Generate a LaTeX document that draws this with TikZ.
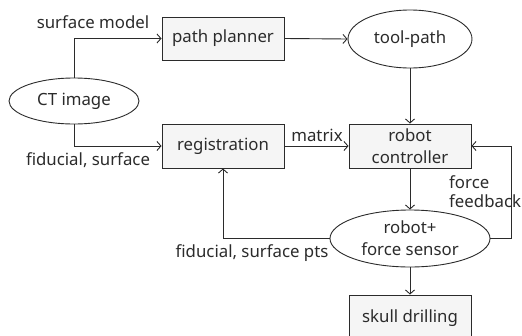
\documentclass[tikz,border=0pt]{standalone}
\usepackage{fontspec}
\setmainfont{Noto Sans}
\usetikzlibrary{arrows.meta,shapes.geometric}
\definecolor{ink}{HTML}{2B2B2B}
\definecolor{boxfill}{HTML}{F5F5F5}
\begin{document}
\begin{tikzpicture}[x=1pt,y=-1pt,
  every node/.style={font=\fontsize{16.8}{22}\selectfont, text=ink},
  block/.style={draw=ink, line width=0.9pt, fill=boxfill, rectangle,
    minimum width=122pt, minimum height=44pt, inner sep=0pt, align=center},
  oval/.style={draw=ink, line width=0.9pt, fill=white, ellipse,
    inner sep=0pt, align=center},
  link/.style={draw=ink, line width=0.9pt, -{Straight Barb[length=4pt,width=9pt]}},
  tag/.style={inner sep=0pt, anchor=base}
]
\useasboundingbox (0,0) rectangle (522,335);

% processing blocks and data ovals
\node[oval, minimum width=130pt, minimum height=46pt] (ct) at (74,101) {CT image};
\node[block, minimum height=43pt] (pp) at (223,38.5) {path planner};
\node[oval, minimum width=124pt, minimum height=58pt] (tp) at (410,39) {tool-path};
\node[block] (reg) at (223,146) {registration};
\node[block] (rc) at (410,146) {robot\\controller};
\node[oval, minimum width=160pt, minimum height=57pt] (rf) at (410,238.5) {robot+\\force sensor};
\node[block, minimum height=46pt] (sd) at (410,318) {skull drilling};

% connectors
\draw[link] (ct.north) |- (pp.west);
\draw[link] (ct.south) |- (reg.west);
\draw[link] (pp.east) -- (tp.west);
\draw[link] (tp.south) -- (rc.north);
\draw[link] (reg.east) -- (rc.west);
\draw[link] (rc.south) -- (rf.north);
\coordinate (fb) at (511,146);
\draw[link] (rf.east) -| (fb) -- (rc.east);
\draw[link] (rf.west) -| (reg.south);
\draw[link] (rf.south) -- (sd.north);

% connector labels
\node[tag] (lsm) at (93,28) {surface model};
\node[tag] (lfs) at (88,165) {fiducial, surface};
\node[tag] (lmx) at (317,141) {matrix};
\node[tag, anchor=base west] (lf1) at (449,188) {force};
\node[tag, anchor=base west] (lf2) at (449,207) {feedback};
\node[tag] (lfp) at (252,257) {fiducial, surface pts};
\end{tikzpicture}
\end{document}
